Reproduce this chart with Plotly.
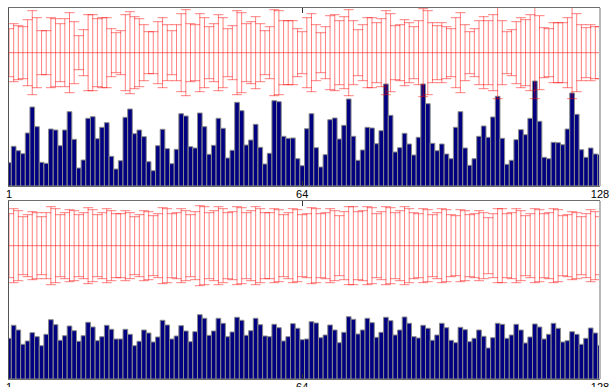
import plotly.graph_objects as go

# ---------------- data ----------------
bins = list(range(1, 129))
tick_vals = [1, 64, 128]
tick_text = ["1", "64", "128"]

center_level = 133.3  # level of the red reference line (same in both panels)

top_values = [
    23.3, 39.7, 35.3, 32.3, 53.0, 79.0, 59.3, 23.7, 22.7, 57.0, 56.0, 40.3, 56.0, 74.3, 46.7, 18.0,
    26.0, 67.7, 69.3, 47.3, 58.7, 63.3, 29.7, 17.0, 25.3, 68.7, 77.0, 52.3, 56.0, 49.3, 24.3, 15.3,
    40.3, 56.7, 37.3, 22.3, 36.7, 72.3, 70.0, 39.3, 38.0, 73.0, 59.3, 31.7, 40.7, 67.7, 57.7, 28.0,
    35.7, 83.7, 75.3, 41.0, 46.0, 61.7, 38.7, 22.0, 32.7, 85.3, 84.3, 49.7, 47.7, 48.0, 27.3, 20.3,
    57.3, 72.3, 38.3, 19.0, 31.3, 66.3, 68.0, 47.0, 60.7, 87.0, 49.7, 25.7, 36.0, 58.7, 58.0, 42.3,
    55.3, 102.0, 70.7, 34.0, 38.3, 52.7, 42.0, 31.0, 48.7, 102.0, 82.3, 42.7, 35.3, 42.0, 32.0, 27.3,
    58.7, 74.3, 38.0, 20.7, 27.3, 49.7, 60.0, 48.7, 69.0, 89.7, 47.7, 21.7, 25.7, 46.3, 56.3, 51.3,
    67.7, 105.0, 64.7, 28.7, 27.3, 43.7, 43.3, 41.3, 57.0, 93.0, 71.7, 36.3, 28.7, 38.0, 32.0, 31.3,
]

top_spread = [
    24, 29, 27, 26, 33, 42, 35, 22, 22, 35, 34, 29, 34, 40, 31, 17,
    23, 38, 38, 34, 35, 35, 24, 20, 22, 38, 41, 36, 34, 28, 21, 21,
    31, 35, 28, 22, 28, 39, 43, 29, 28, 39, 35, 26, 29, 38, 35, 24,
    27, 42, 40, 29, 31, 36, 29, 22, 26, 43, 42, 32, 32, 32, 24, 21,
    35, 39, 28, 20, 26, 37, 38, 32, 36, 43, 32, 23, 28, 35, 35, 30,
    34, 42, 39, 27, 28, 33, 30, 26, 32, 44, 42, 30, 27, 30, 26, 24,
    35, 40, 28, 21, 24, 32, 36, 32, 38, 46, 32, 21, 23, 31, 35, 33,
    38, 46, 37, 25, 24, 30, 30, 30, 35, 46, 39, 28, 25, 28, 26, 26,
]

bottom_values = [
    40.7, 53.7, 49.0, 34.7, 38.0, 46.3, 42.3, 33.3, 44.7, 59.3, 54.3, 38.7, 43.3, 53.0, 48.3, 37.7,
    43.3, 56.7, 52.0, 38.3, 42.3, 53.7, 49.7, 40.0, 40.0, 49.7, 44.7, 33.3, 37.7, 49.0, 46.0, 37.0,
    42.0, 58.7, 54.0, 40.0, 43.0, 53.3, 48.0, 37.3, 47.3, 64.3, 60.7, 43.7, 48.0, 60.7, 55.7, 42.3,
    47.0, 61.7, 58.7, 43.7, 48.3, 60.7, 54.3, 43.0, 42.3, 54.7, 51.3, 38.0, 42.3, 55.3, 50.7, 39.3,
    40.0, 57.3, 56.0, 41.3, 44.0, 54.0, 49.0, 36.3, 46.7, 62.3, 59.7, 45.0, 49.0, 60.7, 56.3, 41.7,
    46.7, 61.7, 58.3, 44.0, 49.0, 62.0, 55.7, 42.3, 41.0, 53.7, 50.7, 38.7, 44.0, 55.7, 51.3, 38.7,
    36.3, 51.7, 49.3, 37.3, 40.7, 49.0, 42.7, 31.0, 41.3, 55.7, 54.7, 40.7, 44.0, 54.7, 49.0, 36.0,
    42.0, 55.0, 52.0, 40.0, 44.7, 55.7, 50.7, 37.0, 38.3, 47.3, 44.7, 34.7, 40.7, 51.0, 46.0, 33.7,
]

bottom_spread = [
    32, 37, 35, 29, 31, 34, 33, 29, 33, 39, 37, 31, 33, 36, 35, 31,
    33, 38, 36, 31, 33, 37, 35, 32, 32, 35, 33, 29, 31, 35, 34, 30,
    32, 38, 37, 32, 33, 37, 35, 31, 34, 40, 39, 33, 35, 39, 37, 33,
    34, 39, 38, 33, 35, 39, 37, 33, 33, 37, 36, 31, 33, 37, 36, 31,
    32, 38, 37, 32, 33, 37, 35, 30, 34, 39, 39, 34, 35, 39, 38, 32,
    34, 39, 38, 33, 35, 39, 37, 33, 32, 37, 36, 31, 33, 37, 36, 31,
    30, 36, 35, 31, 32, 35, 33, 28, 32, 37, 37, 32, 33, 37, 35, 30,
    32, 37, 36, 32, 33, 37, 36, 30, 31, 34, 33, 29, 32, 36, 34, 29,
]

# ---------------- styling ----------------
BAR_FILL = "#000080"
BAR_EDGE = "#8a8a8a"
ERR_RED = "rgba(255,0,0,0.5)"
LINE_RED = "rgba(255,0,0,0.55)"
FONT = "Liberation Sans, Arial, sans-serif"

fig = go.Figure()

panels = [
    ("x", "y", top_values, top_spread),
    ("x2", "y2", bottom_values, bottom_spread),
]

for xa, ya, vals, spread in panels:
    fig.add_trace(go.Bar(
        x=bins, y=vals, xaxis=xa, yaxis=ya,
        marker=dict(color=BAR_FILL, line=dict(color=BAR_EDGE, width=1)),
        showlegend=False, hoverinfo="skip",
    ))
    fig.add_trace(go.Scatter(
        x=bins, y=[center_level] * len(bins), xaxis=xa, yaxis=ya,
        mode="lines",
        line=dict(color=LINE_RED, width=1),
        error_y=dict(type="data", array=spread, symmetric=True,
                     color=ERR_RED, thickness=1, width=5),
        showlegend=False, hoverinfo="skip",
    ))

xaxis_common = dict(
    range=[1, 128], tickmode="array", tickvals=tick_vals, ticktext=tick_text,
    showgrid=False, zeroline=False, automargin=False,
    showline=True, linecolor="#6e6e6e", linewidth=1, mirror="ticks",
    ticks="inside", ticklen=5, tickcolor="#333333", tickwidth=1,
    ticklabelstandoff=-2,
    tickfont=dict(family=FONT, size=11, color="#000000"),
)
yaxis_common = dict(
    range=[0, 178], showgrid=False, zeroline=False, showticklabels=False,
    automargin=False,
    ticks="", showline=True, linecolor="#555555", linewidth=1,
)

fig.update_layout(
    width=610, height=387,
    margin=dict(l=9, r=10, t=8, b=8, autoexpand=False),
    paper_bgcolor="white", plot_bgcolor="white",
    bargap=0,
    hovermode=False,
    xaxis=dict(domain=[0, 1], anchor="y", **xaxis_common),
    yaxis=dict(domain=[0.5202, 1], anchor="x", **yaxis_common),
    xaxis2=dict(domain=[0, 1], anchor="y2", **xaxis_common),
    yaxis2=dict(domain=[0, 0.4798], anchor="x2", **yaxis_common),
    shapes=[
        dict(type="line", xref="x domain", yref="y domain", x0=1, x1=1, y0=0, y1=1,
             line=dict(color="#b8b8b8", width=2), layer="above"),
        dict(type="line", xref="x2 domain", yref="y2 domain", x0=1, x1=1, y0=0, y1=1,
             line=dict(color="#b8b8b8", width=2), layer="above"),
    ],
)

fig.write_html(
    "out.html",
    config={"displayModeBar": False, "staticPlot": True},
    post_script="document.body.style.margin='0px';document.body.style.overflow='hidden';",
)
